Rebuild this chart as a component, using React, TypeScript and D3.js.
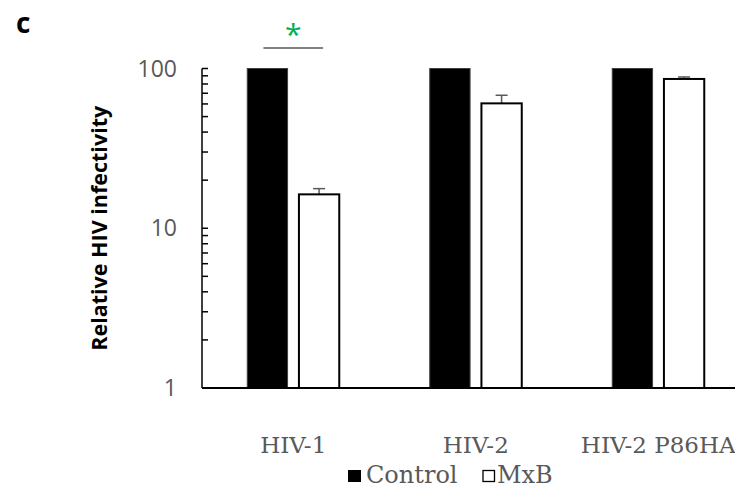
import React, { useEffect, useRef } from "react";
import * as d3 from "d3";

// data
const categories = ["HIV-1", "HIV-2", "HIV-2 P86HA"];
const seriesNames = ["Control", "MxB"];
const controlValues = [100, 100, 100];
const mxbValues = [16.3, 60.5, 86];
const mxbErrors = [1.4, 7.5, 2.5];
const yTickValues = [1, 10, 100];

const W = 735;
const H = 495;
const margin = { top: 68.5, left: 202, bottom: 107 };

export default function App() {
  const ref = useRef<SVGSVGElement>(null);

  useEffect(() => {
    const svg = d3.select(ref.current);
    svg.selectAll("*").remove();

    const plotBottom = H - margin.bottom;
    const x = d3.scaleBand().domain(categories).range([margin.left, margin.left + 547.5]).padding(0);
    const bw = x.bandwidth();
    const xs = d3.scaleBand().domain(seriesNames).range([bw / 2 - 46, bw / 2 + 46]).paddingInner(0.22).paddingOuter(0);
    const y = d3.scaleLog().domain([1, 100]).range([plotBottom, margin.top]);

    const grey = "#595959";
    const serif = "'DejaVu Serif', serif";
    const sans = "'Open Sans', sans-serif";

    // panel letter
    svg.append("text").attr("x", 16).attr("y", 33).text("c")
      .attr("font-family", sans).attr("font-weight", "bold").attr("font-size", 28).attr("fill", "#000");

    // y axis title
    svg.append("text")
      .attr("transform", `translate(${107},${(plotBottom + margin.top) / 2}) rotate(-90)`)
      .attr("text-anchor", "middle")
      .attr("font-family", sans).attr("font-weight", "bold").attr("font-size", 21.5)
      .text("Relative HIV infectivity");

    // y tick labels
    svg.selectAll(".ylab").data(yTickValues).enter().append("text")
      .attr("x", 177).attr("y", d => y(d)).attr("dy", "0.35em")
      .attr("text-anchor", "end").attr("fill", grey)
      .attr("font-family", sans).attr("font-size", 23)
      .text(d => d);

    // bars
    const g = svg.append("g");
    categories.forEach((c, i) => {
      const gx = x(c)!;
      g.append("rect")
        .attr("x", gx + xs("Control")!).attr("width", xs.bandwidth())
        .attr("y", y(controlValues[i])).attr("height", plotBottom - y(controlValues[i]))
        .attr("fill", "#000").attr("stroke", "#404040").attr("stroke-width", 1);
      const ex = gx + xs("MxB")! + xs.bandwidth() / 2;
      g.append("line")
        .attr("x1", ex).attr("x2", ex)
        .attr("y1", y(mxbValues[i])).attr("y2", y(mxbValues[i] + mxbErrors[i]))
        .attr("stroke", grey).attr("stroke-width", 1.5);
      g.append("line")
        .attr("x1", ex - 6).attr("x2", ex + 6)
        .attr("y1", y(mxbValues[i] + mxbErrors[i])).attr("y2", y(mxbValues[i] + mxbErrors[i]))
        .attr("stroke", grey).attr("stroke-width", 1.5);
      g.append("rect")
        .attr("x", gx + xs("MxB")!).attr("width", xs.bandwidth())
        .attr("y", y(mxbValues[i])).attr("height", plotBottom - y(mxbValues[i]))
        .attr("fill", "#fff").attr("stroke", "#000").attr("stroke-width", 2);
    });

    // y axis with inward minor ticks
    const minor = d3.range(1, 10).concat(d3.range(10, 101, 10));
    svg.append("line").attr("x1", margin.left).attr("x2", margin.left)
      .attr("y1", y(100)).attr("y2", plotBottom).attr("stroke", "#000").attr("stroke-width", 1.5);
    svg.selectAll(".mt").data(minor).enter().append("line")
      .attr("x1", margin.left).attr("x2", margin.left + 6)
      .attr("y1", d => y(d)).attr("y2", d => y(d))
      .attr("stroke", "#000").attr("stroke-width", 1.5);

    // x axis line
    svg.append("line").attr("x1", margin.left).attr("x2", W)
      .attr("y1", plotBottom).attr("y2", plotBottom).attr("stroke", "#000").attr("stroke-width", 2);

    // category labels
    svg.selectAll(".xlab").data(categories).enter().append("text")
      .attr("x", d => x(d)! + bw / 2).attr("y", plotBottom + 65)
      .attr("text-anchor", "middle").attr("fill", grey)
      .attr("font-family", serif).attr("font-size", 23)
      .text(d => d);

    // significance marker for HIV-1
    const x1 = x(categories[0])! + xs("Control")! + xs.bandwidth() / 2 - 4;
    const x2 = x(categories[0])! + xs("MxB")! + xs.bandwidth() / 2 + 4;
    svg.append("line").attr("x1", x1).attr("x2", x2).attr("y1", 48).attr("y2", 48)
      .attr("stroke", grey).attr("stroke-width", 1.5);
    svg.append("text").attr("x", (x1 + x2) / 2).attr("y", 45).attr("text-anchor", "middle")
      .attr("fill", "#00b050").attr("font-family", sans).attr("font-size", 30).text("*");

    // legend
    const leg = svg.append("g").attr("transform", `translate(348,470)`);
    leg.append("rect").attr("x", 0).attr("y", 0).attr("width", 13).attr("height", 12).attr("fill", "#000");
    leg.append("text").attr("x", 18).attr("y", 13).text("Control")
      .attr("fill", grey).attr("font-family", serif).attr("font-size", 24);
    leg.append("rect").attr("x", 135).attr("y", 0.5).attr("width", 11.5).attr("height", 11)
      .attr("fill", "#fff").attr("stroke", "#000").attr("stroke-width", 1.3);
    leg.append("text").attr("x", 149).attr("y", 13).text("MxB")
      .attr("fill", grey).attr("font-family", serif).attr("font-size", 24);
  }, []);

  return (
    <svg ref={ref} width={W} height={H}
      style={{ position: "absolute", left: 0, top: 0, background: "#fff", overflow: "hidden" }} />
  );
}
